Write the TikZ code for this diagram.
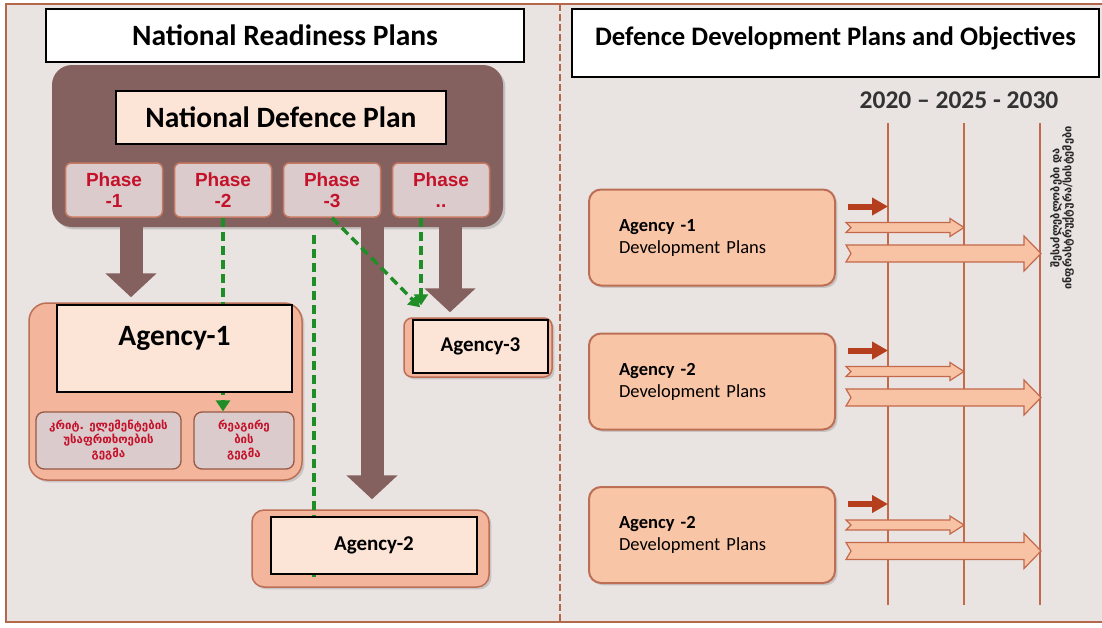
\documentclass[tikz,border=0pt]{standalone}
\usepackage{fontspec}
\setmainfont{Carlito}
\newfontfamily\arialfont{Liberation Sans}
\newfontfamily\geofont{DejaVu Sans}
\usetikzlibrary{arrows.meta,shadows}

\definecolor{bgpink}{HTML}{E9E3E2}
\definecolor{frameline}{HTML}{B5674C}
\definecolor{planbrown}{HTML}{84605E}
\definecolor{phasefill}{HTML}{DCCBCC}
\definecolor{phaseline}{HTML}{C67A63}
\definecolor{phasered}{HTML}{C4122A}
\definecolor{salmon}{HTML}{F3B59C}
\definecolor{salmonline}{HTML}{BC6F55}
\definecolor{peach}{HTML}{FCE4D6}
\definecolor{devfill}{HTML}{F8C5A6}
\definecolor{timeline}{HTML}{C4694A}
\definecolor{darkarrow}{HTML}{B53F1C}
\definecolor{dashgreen}{HTML}{1F8E26}

\newcommand{\hollowarrow}[5]{%
  \draw[hollow] #1 ++(0,-#3) -- ++(#2-#5,0) -- ++(0,-#4+#3) -- ++(#5,#4)
    -- ++(-#5,#4) -- ++(0,-#4+#3) -- ++(-#2+#5,0) -- ++(5,-#3) -- cycle;}

\begin{document}
\begin{tikzpicture}[x=1pt, y=-1pt,
  titlebox/.style={draw=black, line width=1.2pt, fill=white, font=\bfseries\fontsize{29.5}{34}\selectfont},
  planframe/.style={fill=planbrown, rounded corners=20pt, drop shadow={opacity=0.35}},
  phasebox/.style={draw=phaseline, fill=phasefill, line width=1.5pt, rounded corners=6pt, minimum width=97pt, minimum height=54pt, align=center, text=phasered, font=\arialfont\bfseries\fontsize{19}{21}\selectfont},
  bigarrow/.style={planbrown, line width=23pt, -{Triangle[width=50pt,length=24pt]}},
  agencyframe/.style={draw=salmonline, fill=salmon, line width=1.5pt, rounded corners=18pt, drop shadow={opacity=0.3}},
  subbox/.style={draw=salmonline!80!black, fill=phasefill, line width=1.3pt, rounded corners=8pt, minimum height=57pt, align=center, text=phasered, font=\geofont\bfseries\fontsize{11.5}{14}\selectfont},
  greenline/.style={dashgreen, line width=3.5pt, dash pattern=on 9pt off 5pt},
  greenarrow/.style={greenline, -{Triangle[width=14pt,length=11pt]}},
  innerbox/.style={draw=black, line width=1.2pt, fill=peach, font=\bfseries\fontsize{29.5}{34}\selectfont},
  devbox/.style={draw=salmonline, fill=devfill, line width=2pt, rounded corners=12pt, minimum height=96pt, text width=186pt, inner xsep=30pt, align=left, font=\fontsize{18.5}{22}\selectfont, drop shadow={opacity=0.3}},
  shortarrow/.style={darkarrow, line width=6pt, -{Triangle[width=17pt,length=16pt]}},
  hollow/.style={draw=timeline, fill=devfill!85!salmon, line width=1.2pt, line join=miter}]

\useasboundingbox (0,0) rectangle (1102,627);
\fill[bgpink] (5,4) rectangle (1102,622);
\draw[frameline, line width=1.5pt] (1102,4) -- (6,4) -- (6,622) -- (1102,622);
\draw[frameline, line width=1.6pt, dash pattern=on 7pt off 3pt] (560,4) -- (560,622);

% national readiness plans
\node[titlebox, minimum width=478pt, minimum height=53pt] (nrp) at (285,35.5) {National Readiness Plans};
\node[planframe, minimum width=451pt, minimum height=162pt] (ndpbox) at (277.5,146) {};
\node[innerbox, minimum width=330pt, minimum height=53pt] (ndp) at (281,117.5) {National Defence Plan};
\foreach \i/\x/\t in {1/114/-1, 2/223/-2, 3/332/-3, 4/441/..}
  \node[phasebox] (ph\i) at (\x,190) {Phase\\\t};

\node[agencyframe, minimum width=273pt, minimum height=177pt] (agone) at (165.5,391.5) {};
\node[agencyframe, rounded corners=8pt, minimum width=148pt, minimum height=59pt] (agthree) at (478,347.5) {};
\node[agencyframe, rounded corners=12pt, minimum width=237pt, minimum height=77pt] (agtwo) at (370.5,548.5) {};

\draw[bigarrow] ([xshift=-146.5pt]ndpbox.south) -- ([xshift=-34.5pt,yshift=5pt]agone.north);
\draw[bigarrow] ([xshift=94.5pt]ndpbox.south) -- ([xshift=1.5pt,yshift=10pt]agtwo.north);
\draw[bigarrow] ([xshift=172.5pt]ndpbox.south) -- ([xshift=-28pt,yshift=5pt]agthree.north);

\node[subbox, minimum width=145pt] (subone) at (108.5,440.5) {კრიტ. ელემენტების\\უსაფრთხოების\\გეგმა};
\node[subbox, minimum width=100pt] (subtwo) at (244,440.5) {რეაგირე\\ბის\\გეგმა};

\draw[greenarrow] (ph2.south) -- (ph2.south |- subtwo.north);
\draw[greenline] ([xshift=36.5pt,yshift=-8pt]ndpbox.south) -- ([xshift=-56.5pt,yshift=-68pt]agtwo.north);
\draw[greenarrow] (ph3.south) -- ([xshift=-58pt,yshift=10pt]agthree.north);
\draw[greenarrow] ([xshift=-20pt]ph4.south) -- ([xshift=-57pt,yshift=12pt]agthree.north);

\node[innerbox, minimum width=235pt, minimum height=87pt, text depth=25pt] (agonein) at (174.5,348.5) {Agency-1};
\node[innerbox, font=\bfseries\fontsize{21}{25}\selectfont, minimum width=135pt, minimum height=53pt] (agthreein) at (480.5,346.5) {Agency-3};
\node[innerbox, font=\bfseries\fontsize{21}{25}\selectfont, minimum width=206pt, minimum height=57pt] (agtwoin) at (374,545.5) {Agency-2};

% defence development plans
\node[titlebox, font=\bfseries\fontsize{26.7}{30}\selectfont, minimum width=527pt, minimum height=68pt, text depth=13pt] (ddp) at (835.5,43) {Defence Development Plans and Objectives};
\node[text=black!80, font=\bfseries\fontsize{25.5}{30}\selectfont] (years) at (959,100) {2020 -- 2025 - 2030};
\foreach \y/\x in {2020/888, 2025/964, 2030/1040} {
  \coordinate (t\y) at (\x,123);
  \coordinate (b\y) at (\x,605);
  \draw[timeline, line width=1.5pt] (t\y) -- (b\y);
}
\node[rotate=90, align=center, text=black!85, font=\geofont\bfseries\fontsize{11}{12}\selectfont] (goals) at (1062,208) {შესაძლებლობები და\\ინფრასტრუქტურა/სისტემები};

\foreach \i/\y/\n in {one/237.5/1, two/381.5/2, three/535/2} {
  \node[devbox] (dev\i) at (712,\y) {\textbf{Agency -\n}\\Development Plans};
  \draw[shortarrow] ([xshift=12pt,yshift=31pt]dev\i.east) -- ([xshift=52pt,yshift=31pt]dev\i.east);
  \hollowarrow{([xshift=10pt,yshift=10pt]dev\i.east)}{118}{5}{9}{14}
  \hollowarrow{([xshift=10pt,yshift=-16pt]dev\i.east)}{195}{8.5}{17.5}{17}
}
\end{tikzpicture}
\end{document}
